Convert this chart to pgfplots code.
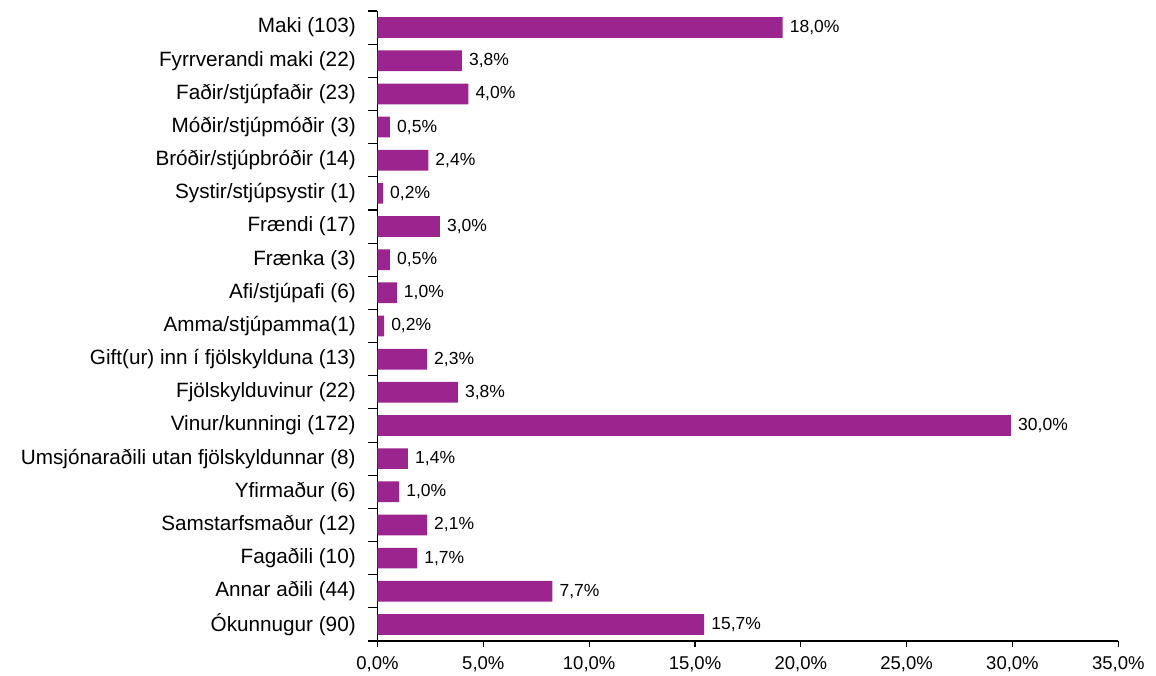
\documentclass[border=0pt]{standalone}
\usepackage{pgfplots}
\usepackage{pgfplotstable}
\pgfplotsset{compat=1.18}
\usepackage{fontspec}
\setmainfont{Liberation Sans}
\definecolor{barc}{RGB}{155,36,142}
\pgfplotstableread{
y x lab
18 19.14 18,0
17 3.99 3,8
16 4.29 4,0
15 0.59 0,5
14 2.40 2,4
13 0.26 0,2
12 2.95 3,0
11 0.59 0,5
10 0.91 1,0
9 0.31 0,2
8 2.34 2,3
7 3.80 3,8
6 29.93 30,0
5 1.44 1,4
4 1.02 1,0
3 2.34 2,1
2 1.87 1,7
1 8.26 7,7
0 15.43 15,7
}\data
\begin{document}
\begin{tikzpicture}
\path[use as bounding box] (0,0) rectangle (1156pt,-675pt);
\begin{axis}[
  at={(377.5pt,-641pt)}, anchor=south west,
  scale only axis, width=740.8pt, height=630pt,
  xmin=0, xmax=35, ymin=-0.5, ymax=18.5,
  axis x line*=bottom, axis y line*=left,
  axis line style={line width=1.1pt, -},
  every tick/.style={black, line width=1.1pt},
  tick align=outside,
  major tick length=6pt, minor tick length=9pt,
  xtick={0,5,...,35},
  xticklabel={\pgfmathprintnumber[fixed,fixed zerofill,precision=1,use comma]{\tick}\%},
  xticklabel style={font=\fontsize{18.5}{22}\selectfont, inner sep=0pt, yshift=-9.5pt},
  ytick={0,...,18},
  minor ytick={-0.5,0.5,...,18.5},
  major y tick style={draw=none},
  yticklabels={Ókunnugur (90), Annar aðili (44), Fagaðili (10), Samstarfsmaður (12), Yfirmaður (6), Umsjónaraðili utan fjölskyldunnar (8), Vinur/kunningi (172), Fjölskylduvinur (22), Gift(ur) inn í fjölskylduna (13), Amma/stjúpamma(1), Afi/stjúpafi (6), Frænka (3), Frændi (17), Systir/stjúpsystir (1), Bróðir/stjúpbróðir (14), Móðir/stjúpmóðir (3), Faðir/stjúpfaðir (23), Fyrrverandi maki (22), Maki (103)},
  yticklabel style={font=\fontsize{20.7}{24}\selectfont, inner sep=0pt, xshift=-15.6pt},
  /pgf/number format/assume math mode=true,
  xbar, bar width=20.7pt,
  nodes near coords={\pgfplotspointmeta\%},
  point meta=explicit symbolic,
  every node near coord/.append style={font=\fontsize{17.5}{21}\selectfont, anchor=west, inner sep=0pt, xshift=7pt, black},
  clip=false,
]
\addplot[fill=barc, draw=none] table[x=x, y=y, meta=lab] {\data};
\end{axis}
\end{tikzpicture}
\end{document}
